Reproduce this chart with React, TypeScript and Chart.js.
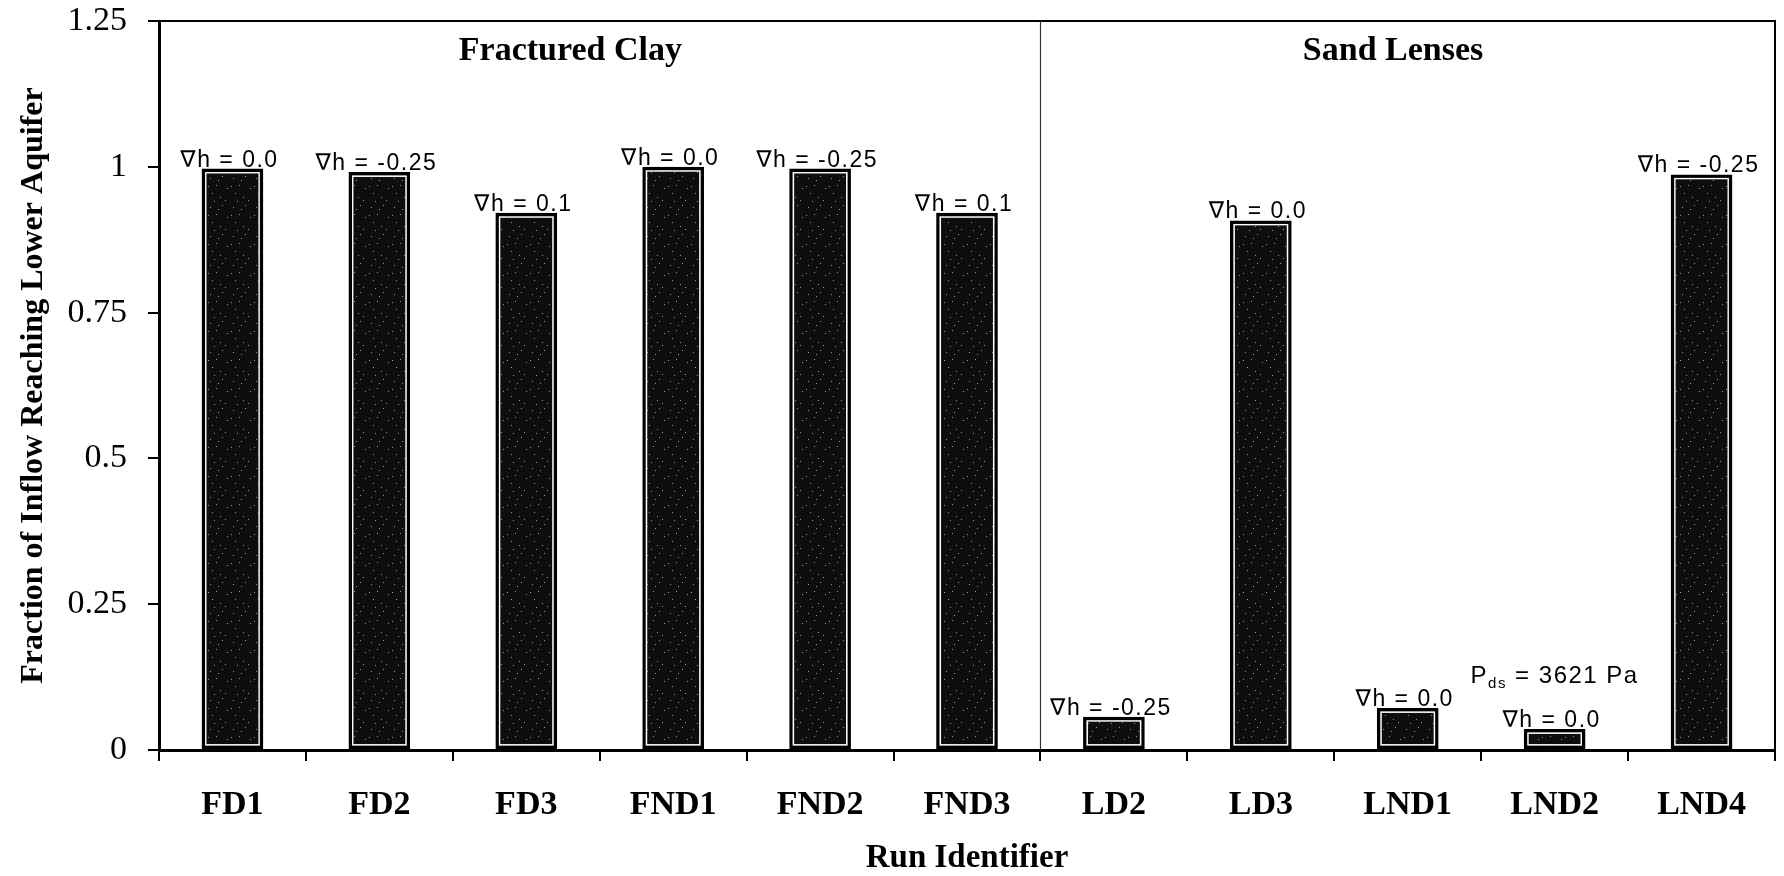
import { useEffect, useRef } from 'react';
import { Chart, registerables } from 'chart.js';

Chart.register(...registerables);

const categories = ['FD1', 'FD2', 'FD3', 'FND1', 'FND2', 'FND3', 'LD2', 'LD3', 'LND1', 'LND2', 'LND4'];
const fractions = [0.997, 0.991, 0.921, 1.0, 0.997, 0.921, 0.057, 0.908, 0.072, 0.036, 0.987];
const gradientLabels = [
  '∇h = 0.0', '∇h = -0.25', '∇h = 0.1', '∇h = 0.0', '∇h = -0.25', '∇h = 0.1',
  '∇h = -0.25', '∇h = 0.0', '∇h = 0.0', '∇h = 0.0', '∇h = -0.25',
];
const pressureNoteIndex = 9;
const pressureNoteParts = ['P', 'ds', ' = 3621 Pa'];
const groupNames = ['Fractured Clay', 'Sand Lenses'];
const groupCenters = [2.3, 7.9];
const dividerAfterIndex = 5;
const yTickValues = [0, 0.25, 0.5, 0.75, 1, 1.25];
const yTickLabels = ['0', '0.25', '0.5', '0.75', '1', '1.25'];
const xTitle = 'Run Identifier';
const yTitle = 'Fraction of Inflow Reaching Lower Aquifer';

const SERIF = '"Liberation Serif", "Times New Roman", serif';
const SANS = '"Liberation Sans", Arial, "DejaVu Sans", sans-serif';

function makeSpeckle(): CanvasPattern | string {
  const c = document.createElement('canvas');
  c.width = 23;
  c.height = 29;
  const g = c.getContext('2d');
  if (!g) return '#111';
  g.fillStyle = '#0e0e0e';
  g.fillRect(0, 0, 23, 29);
  g.fillStyle = '#9a9a9a';
  const dots = [[3, 4], [15, 2], [9, 11], [20, 14], [5, 19], [13, 23], [18, 26], [1, 12], [11, 6], [7, 27]];
  dots.forEach(([x, y]) => g.fillRect(x, y, 1, 1));
  return g.createPattern(c, 'repeat') || '#111';
}

function setSpacing(ctx: CanvasRenderingContext2D, v: string) {
  (ctx as any).letterSpacing = v;
}

const overlayPlugin = {
  id: 'overlay',
  afterDatasetsDraw(chart: any) {
    const ctx: CanvasRenderingContext2D = chart.ctx;
    const { left, right, top, bottom } = chart.chartArea;
    const xs = chart.scales.x;
    const meta = chart.getDatasetMeta(0);
    ctx.save();

    // white inner outline of bars
    meta.data.forEach((bar: any) => {
      const p = bar.getProps(['x', 'y', 'base', 'width'], true);
      const inset = 4.2;
      const h = p.base - p.y;
      ctx.strokeStyle = '#ffffff';
      ctx.lineWidth = 1.4;
      if (h > 2 * inset + 2) {
        ctx.strokeRect(p.x - p.width / 2 + inset, p.y + inset, p.width - 2 * inset, h - 2 * inset);
      }
    });

    // frame: top and right
    ctx.strokeStyle = '#000';
    ctx.lineWidth = 2;
    ctx.beginPath();
    ctx.moveTo(left, top);
    ctx.lineTo(right, top);
    ctx.lineTo(right, bottom);
    ctx.stroke();

    // divider between groups
    const dx = (xs.getPixelForValue(dividerAfterIndex) + xs.getPixelForValue(dividerAfterIndex + 1)) / 2;
    ctx.strokeStyle = '#333';
    ctx.lineWidth = 1.2;
    ctx.beginPath();
    ctx.moveTo(Math.round(dx) + 0.5, top);
    ctx.lineTo(Math.round(dx) + 0.5, bottom);
    ctx.stroke();

    // group titles
    ctx.fillStyle = '#000';
    ctx.font = `bold 34px ${SERIF}`;
    ctx.textAlign = 'center';
    ctx.textBaseline = 'middle';
    groupNames.forEach((name, i) => {
      ctx.fillText(name, xs.getPixelForValue(groupCenters[i]), top + 30);
    });

    // bar labels
    ctx.font = `23px ${SANS}`;
    setSpacing(ctx, '1.5px');
    ctx.textAlign = 'center';
    ctx.textBaseline = 'alphabetic';
    meta.data.forEach((bar: any, i: number) => {
      const p = bar.getProps(['x', 'y'], true);
      ctx.fillText(gradientLabels[i], p.x - 3, p.y - 2);
    });

    // pressure note over LND2
    const nb = meta.data[pressureNoteIndex].getProps(['x', 'y'], true);
    const bigFont = `24px ${SANS}`;
    const subFont = `15px ${SANS}`;
    ctx.font = bigFont;
    const w0 = ctx.measureText(pressureNoteParts[0]).width;
    const w2 = ctx.measureText(pressureNoteParts[2]).width;
    ctx.font = subFont;
    const w1 = ctx.measureText(pressureNoteParts[1]).width;
    const total = w0 + w1 + w2;
    let sx = nb.x - total / 2;
    const by = nb.y - 46;
    ctx.textAlign = 'left';
    ctx.font = bigFont;
    ctx.fillText(pressureNoteParts[0], sx, by);
    sx += w0;
    ctx.font = subFont;
    ctx.fillText(pressureNoteParts[1], sx, by + 5);
    sx += w1;
    ctx.font = bigFont;
    ctx.fillText(pressureNoteParts[2], sx, by);
    setSpacing(ctx, '0px');

    // x axis title
    ctx.font = `bold 33px ${SERIF}`;
    ctx.textAlign = 'center';
    ctx.textBaseline = 'middle';
    ctx.fillText(xTitle, (left + right) / 2, 858);

    ctx.restore();
  },
};

export default function App() {
  const ref = useRef<HTMLCanvasElement | null>(null);

  useEffect(() => {
    if (!ref.current) return;
    const speckle = makeSpeckle();
    const chart = new Chart(ref.current, {
      type: 'bar',
      data: {
        labels: categories,
        datasets: [
          {
            data: fractions,
            backgroundColor: speckle as any,
            borderColor: '#000',
            borderWidth: 3.5,
            borderSkipped: false,
            categoryPercentage: 1,
            barPercentage: 0.42,
          },
        ],
      },
      options: {
        animation: false,
        responsive: true,
        maintainAspectRatio: false,
        layout: { padding: { left: 0, top: 21, right: 9, bottom: 0 } },
        plugins: {
          legend: { display: false },
          tooltip: { enabled: false },
          title: { display: false },
        },
        scales: {
          x: {
            grid: {
              display: true,
              drawOnChartArea: false,
              drawTicks: true,
              tickLength: 11,
              color: '#000',
              lineWidth: 2,
              offset: true,
            },
            border: { display: true, color: '#000', width: 3 },
            ticks: {
              color: '#000',
              font: { family: SERIF, size: 34, weight: 'bold' },
              padding: 24,
              maxRotation: 0,
              autoSkip: false,
            },
            afterFit: (scale: any) => {
              scale.height = 126;
              scale.paddingLeft = 0;
              scale.paddingRight = 0;
            },
          },
          y: {
            min: 0,
            max: 1.25,
            afterBuildTicks: (scale: any) => {
              scale.ticks = yTickValues.map((v) => ({ value: v }));
            },
            grid: {
              display: true,
              drawOnChartArea: false,
              drawTicks: true,
              tickLength: 11,
              color: '#000',
              lineWidth: 2,
            },
            border: { display: true, color: '#000', width: 3 },
            ticks: {
              color: '#000',
              font: { family: SERIF, size: 34 },
              padding: 21,
              callback: (_v: any, i: number) => yTickLabels[i],
            },
            title: {
              display: true,
              text: yTitle,
              color: '#000',
              font: { family: SERIF, size: 32, weight: 'bold' },
              padding: { top: 15, bottom: 0 },
            },
            afterFit: (scale: any) => {
              scale.width = 159;
              scale.paddingTop = 0;
              scale.paddingBottom = 0;
            },
          },
        },
      },
      plugins: [overlayPlugin],
    });
    return () => chart.destroy();
  }, []);

  return (
    <div style={{ position: 'absolute', left: 0, top: 0, width: 1784, height: 876, background: '#fff' }}>
      <canvas ref={ref} />
    </div>
  );
}
